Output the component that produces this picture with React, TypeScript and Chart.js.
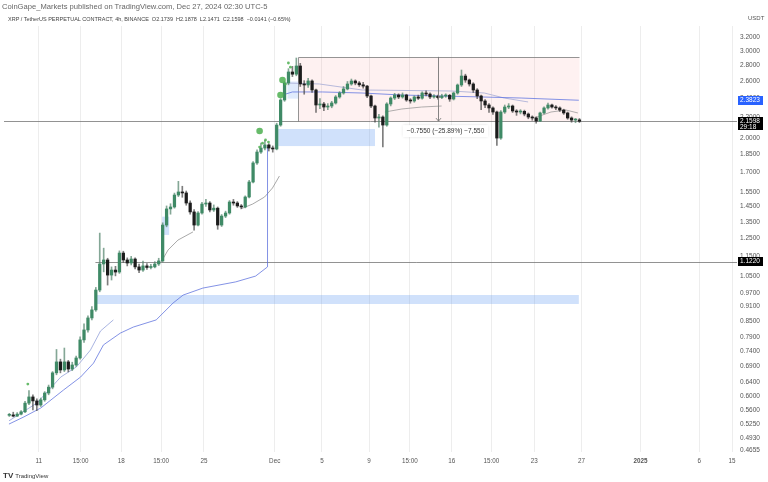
import React, { useEffect, useRef } from "react";
import { Chart, registerables } from "chart.js";
Chart.register(...registerables);

// time unit: day of November 2024 (Dec 1 = 31, Jan 1 = 62); 8h candles
const START_T = 8.5;
const STEP_T = 1 / 3;
const FIRST_OPEN = 0.548;

const CLOSE = [
  0.549, 0.546, 0.551, 0.557, 0.58, 0.597, 0.586, 0.575, 0.589, 0.608,
  0.625, 0.668, 0.703, 0.677, 0.703, 0.68, 0.693, 0.716, 0.779, 0.816,
  0.863, 0.896, 0.983, 1.11, 1.131, 1.054, 1.079, 1.069, 1.168, 1.131,
  1.115, 1.136, 1.095, 1.079, 1.1, 1.092, 1.095, 1.11, 1.126, 1.331,
  1.435, 1.448, 1.531, 1.553, 1.546, 1.475, 1.415, 1.331, 1.408, 1.468,
  1.475, 1.428, 1.44, 1.331, 1.388, 1.408, 1.482, 1.475, 1.455, 1.448,
  1.517, 1.627, 1.778, 1.871, 1.906, 1.934, 1.906, 1.898, 2.122, 2.385,
  2.582, 2.718, 2.69, 2.795, 2.57, 2.558, 2.606, 2.499, 2.33, 2.341,
  2.308, 2.319, 2.352, 2.419, 2.464, 2.511, 2.57, 2.606, 2.582, 2.56,
  2.545, 2.43, 2.319, 2.193, 2.203, 2.122, 2.341, 2.407, 2.441, 2.419,
  2.441, 2.385, 2.374, 2.419, 2.405, 2.464, 2.452, 2.419, 2.428, 2.412,
  2.43, 2.438, 2.396, 2.464, 2.558, 2.667, 2.618, 2.57, 2.499, 2.43,
  2.374, 2.33, 2.298, 2.255, 1.997, 2.255, 2.308, 2.319, 2.266, 2.255,
  2.262, 2.234, 2.203, 2.193, 2.162, 2.245, 2.298, 2.33, 2.308, 2.298,
  2.276, 2.245, 2.193, 2.172, 2.174, 2.1598,
];
const HIGH = [
  0.553, 0.556, 0.555, 0.56, 0.585, 0.615, 0.603, 0.592, 0.594, 0.612,
  0.631, 0.672, 0.745, 0.712, 0.75, 0.708, 0.702, 0.722, 0.79, 0.84,
  0.872, 0.91, 0.995, 1.282, 1.195, 1.14, 1.095, 1.098, 1.18, 1.178,
  1.142, 1.15, 1.142, 1.11, 1.125, 1.112, 1.108, 1.122, 1.14, 1.345,
  1.455, 1.47, 1.545, 1.632, 1.595, 1.56, 1.49, 1.43, 1.418, 1.48,
  1.5, 1.485, 1.462, 1.448, 1.398, 1.42, 1.492, 1.5, 1.485, 1.465,
  1.525, 1.64, 1.79, 1.89, 1.95, 1.975, 1.945, 1.925, 2.14, 2.4,
  2.6, 2.76, 2.79, 2.901, 2.83, 2.61, 2.64, 2.62, 2.51, 2.4,
  2.36, 2.345, 2.37, 2.435, 2.48, 2.54, 2.6, 2.63, 2.62, 2.6,
  2.59, 2.555, 2.44, 2.33, 2.23, 2.215, 2.355, 2.42, 2.46, 2.455,
  2.465, 2.45, 2.4, 2.432, 2.44, 2.478, 2.49, 2.465, 2.445, 2.44,
  2.45, 2.455, 2.448, 2.475, 2.57, 2.743, 2.69, 2.63, 2.585, 2.515,
  2.44, 2.39, 2.345, 2.31, 2.265, 2.27, 2.33, 2.345, 2.33, 2.28,
  2.28, 2.275, 2.245, 2.215, 2.205, 2.255, 2.31, 2.35, 2.34, 2.325,
  2.31, 2.285, 2.255, 2.205, 2.188, 2.1878,
];
const LOW = [
  0.545, 0.544, 0.545, 0.549, 0.555, 0.576, 0.562, 0.56, 0.571, 0.585,
  0.603, 0.62, 0.662, 0.668, 0.672, 0.671, 0.675, 0.688, 0.712, 0.77,
  0.808, 0.855, 0.89, 0.975, 1.07, 1.006, 1.03, 1.05, 1.062, 1.118,
  1.1, 1.105, 1.085, 1.066, 1.072, 1.082, 1.085, 1.09, 1.102, 1.12,
  1.32, 1.4, 1.44, 1.52, 1.515, 1.46, 1.4, 1.3, 1.325, 1.4,
  1.452, 1.415, 1.418, 1.305, 1.322, 1.378, 1.4, 1.46, 1.445, 1.436,
  1.442, 1.51, 1.62, 1.765, 1.86, 1.89, 1.88, 1.87, 1.89, 2.11,
  2.37, 2.56, 2.66, 2.67, 2.54, 2.45, 2.53, 2.47, 2.25, 2.29,
  2.27, 2.28, 2.3, 2.34, 2.405, 2.45, 2.5, 2.555, 2.56, 2.54,
  2.52, 2.41, 2.3, 2.15, 2.1, 1.916, 2.11, 2.32, 2.39, 2.4,
  2.405, 2.37, 2.35, 2.36, 2.39, 2.395, 2.43, 2.4, 2.405, 2.395,
  2.4, 2.415, 2.37, 2.385, 2.45, 2.54, 2.59, 2.545, 2.47, 2.4,
  2.28, 2.3, 2.25, 2.23, 1.93, 1.985, 2.24, 2.29, 2.25, 2.22,
  2.235, 2.215, 2.185, 2.17, 2.14, 2.155, 2.235, 2.285, 2.295, 2.28,
  2.26, 2.23, 2.18, 2.15, 2.145, 2.1471,
];

const X_TICKS = [11, 14.54, 18, 21.37, 25, 31, 35, 39, 42.45, 46, 49.36, 53, 57, 62, 67, 69.77];
const X_LABELS = ["11", "15:00", "18", "15:00", "25", "Dec", "5", "9", "15:00", "16", "15:00", "23", "27", "2025", "6", "15"];
const Y_TICKS = [3.2, 3.0, 2.8, 2.6, 2.4, 2.2, 2.0, 1.85, 1.7, 1.55, 1.45, 1.35, 1.25, 1.15, 1.05, 0.97, 0.91, 0.85, 0.79, 0.74, 0.69, 0.64, 0.6, 0.56, 0.525, 0.493, 0.4655];

// indicator / drawing lines: [time, price]
const LINE_ANCHORED = [[8.47, 0.526], [9.74, 0.544], [11.17, 0.567], [13.11, 0.617], [14.54, 0.655], [15.64, 0.699], [16.48, 0.761], [17.91, 0.804], [19.01, 0.827], [20.95, 0.855], [22.38, 0.925], [23.23, 0.96], [24.91, 0.992], [27.69, 1.021], [29.38, 1.049], [30.39, 1.095], [30.39, 1.916]];
const LINE_EARLY = [[8.47, 0.534], [10.83, 0.58], [12.86, 0.655], [14.2, 0.687], [15.38, 0.743], [16.23, 0.812], [17.32, 0.855]];
const LINE_NOV22 = [[21.37, 1.12], [21.96, 1.185], [22.8, 1.241], [24.07, 1.289]];
const LINE_NOV28 = [[28.12, 1.435], [29.13, 1.468], [30.14, 1.517], [30.81, 1.582], [31.4, 1.673]];
const LINE_VWAP = [[31.66, 2.441], [32.5, 2.476], [35.03, 2.476], [38.4, 2.464], [41.78, 2.441], [45.15, 2.43], [48.52, 2.419], [51.89, 2.407], [56.78, 2.3823]];
const LINE_VWAP2 = [[31.91, 2.582], [34.78, 2.57], [38.4, 2.499], [45.99, 2.487], [48.77, 2.464], [50.46, 2.407], [52.48, 2.363]];
const LINE_DEC10 = [[40.34, 2.255], [41.78, 2.287], [43.46, 2.308], [45.15, 2.319]];
const LINE_DEC23 = [[52.99, 2.193], [54.42, 2.255], [55.69, 2.276], [56.7, 2.245]];

const DOTS_BIG = [[29.72, 2.064], [31.66, 2.618], [31.49, 2.441]];
const DOTS_SMALL = [[30.22, 1.979], [30.47, 1.96], [29.97, 1.95], [29.72, 1.915], [31.91, 2.57], [32.16, 2.834], [32.33, 2.78], [10.07, 0.634]];

const ZONE_T0 = [15.89, 31.3, 21.46, 32.08];
const ZONE_T1 = [56.78, 39.5, 22.05, 33.0];
const ZONE_TOP = [0.9605, 2.083, 1.384, 2.6];
const ZONE_BOTTOM = [0.921, 1.924, 1.271, 2.4];

const RANGE_T = [33.0, 56.78];
const RANGE_P = [2.9163, 2.1613];
const MEASURE_T = 44.81;
const MEASURE_TEXT = "\u22120.7550 (\u221225.89%) \u22127,550";
const LAST_PRICE = 2.1598;
const COUNTDOWN = "29:18";
const LEVEL_PRICE = 1.122;
const LEVEL_T0 = 15.8;
const VWAP_LAST = 2.3823;

const FONT = "'Liberation Sans', Arial, sans-serif";

const OPEN = CLOSE.map((c, i) => (i === 0 ? FIRST_OPEN : CLOSE[i - 1]));
const TIMES = CLOSE.map((_, i) => START_T + i * STEP_T);

function tag(ctx: any, yPix: number, lines: string[], bg: string, left: number) {
  const h = lines.length === 1 ? 9 : 13;
  const top = Math.round(lines.length === 1 ? yPix - h / 2 : yPix - 4);
  ctx.fillStyle = bg;
  ctx.fillRect(left, top, 25, h);
  ctx.fillStyle = "#fff";
  ctx.font = `6.5px ${FONT}`;
  ctx.textBaseline = "middle";
  ctx.textAlign = "left";
  lines.forEach((s, i) => ctx.fillText(s, left + 2, top + 4.7 + i * 5.6));
}

const overlay = {
  id: "overlay",
  beforeDatasetsDraw(chart: any) {
    const { ctx, chartArea: a, scales } = chart;
    const x = scales.x, y = scales.y;
    ctx.save();
    ctx.beginPath();
    ctx.rect(a.left, a.top, a.right - a.left, a.bottom - a.top);
    ctx.clip();
    const rx0 = Math.round(x.getPixelForValue(RANGE_T[0])) + 0.5;
    const rx1 = Math.round(x.getPixelForValue(RANGE_T[1])) + 0.5;
    const ry0 = Math.round(y.getPixelForValue(RANGE_P[0])) + 0.5;
    const ry1 = Math.round(y.getPixelForValue(RANGE_P[1])) + 0.5;
    ctx.fillStyle = "rgba(240,100,100,0.09)";
    ctx.fillRect(rx0, ry0, rx1 - rx0, ry1 - ry0);
    ctx.strokeStyle = "rgba(130,130,130,0.85)";
    ctx.lineWidth = 1;
    ctx.beginPath();
    ctx.moveTo(rx0, ry1);
    ctx.lineTo(rx0, ry0);
    ctx.lineTo(rx1, ry0);
    ctx.stroke();
    ZONE_T0.forEach((t0, i) => {
      const x0 = x.getPixelForValue(t0), x1 = x.getPixelForValue(ZONE_T1[i]);
      const y0 = y.getPixelForValue(ZONE_TOP[i]), y1 = y.getPixelForValue(ZONE_BOTTOM[i]);
      ctx.fillStyle = i === 3 ? "rgba(60,130,240,0.16)" : "rgba(60,130,240,0.24)";
      ctx.fillRect(x0, y0, x1 - x0, y1 - y0);
    });
    const ly = Math.round(y.getPixelForValue(LAST_PRICE)) + 0.5;
    ctx.strokeStyle = "rgba(110,110,110,0.75)";
    ctx.beginPath();
    ctx.moveTo(a.left, ly);
    ctx.lineTo(a.right, ly);
    ctx.stroke();
    const vy = Math.round(y.getPixelForValue(LEVEL_PRICE)) + 0.5;
    ctx.beginPath();
    ctx.moveTo(x.getPixelForValue(LEVEL_T0), vy);
    ctx.lineTo(a.right, vy);
    ctx.stroke();
    ctx.restore();
  },
  afterDatasetsDraw(chart: any) {
    const { ctx, scales } = chart;
    const x = scales.x, y = scales.y;
    ctx.save();
    const mx = Math.round(x.getPixelForValue(MEASURE_T)) + 0.5;
    const my0 = y.getPixelForValue(RANGE_P[0]);
    const my1 = y.getPixelForValue(RANGE_P[1]);
    ctx.strokeStyle = "rgba(120,120,120,0.9)";
    ctx.lineWidth = 1;
    ctx.beginPath();
    ctx.moveTo(mx, my0);
    ctx.lineTo(mx, my1);
    ctx.moveTo(mx - 2.5, my1 - 3);
    ctx.lineTo(mx, my1);
    ctx.lineTo(mx + 2.5, my1 - 3);
    ctx.stroke();
    ctx.font = `6.5px ${FONT}`;
    const w = ctx.measureText(MEASURE_TEXT).width + 8;
    const cx = mx + 7;
    const top = my1 + 4;
    ctx.shadowColor = "rgba(0,0,0,0.2)";
    ctx.shadowBlur = 3;
    ctx.fillStyle = "#fff";
    ctx.fillRect(cx - w / 2, top, w, 12);
    ctx.shadowBlur = 0;
    ctx.fillStyle = "#333";
    ctx.textAlign = "center";
    ctx.textBaseline = "middle";
    ctx.fillText(MEASURE_TEXT, cx, top + 6.3);
    ctx.restore();
  },
  afterDraw(chart: any) {
    const { ctx, chartArea: a, scales } = chart;
    const y = scales.y;
    ctx.save();
    const left = a.right + 1;
    tag(ctx, y.getPixelForValue(VWAP_LAST), [VWAP_LAST.toFixed(4)], "#2962ff", left);
    tag(ctx, y.getPixelForValue(LAST_PRICE), [LAST_PRICE.toFixed(4), COUNTDOWN], "#000", left);
    tag(ctx, y.getPixelForValue(LEVEL_PRICE), [LEVEL_PRICE.toFixed(4)], "#000", left);
    ctx.restore();
  },
};

const toXY = (pts: number[][]) => pts.map(([t, p]) => ({ x: t, y: p }));
const lineDs = (pts: number[][], color: string) => ({
  type: "line",
  data: toXY(pts),
  borderColor: color,
  backgroundColor: color,
  borderWidth: 1,
  pointRadius: 0,
  tension: 0,
  fill: false,
  order: 4,
});

export default function App() {
  const ref = useRef<HTMLCanvasElement>(null);
  useEffect(() => {
    if (!ref.current) return;
    const up = CLOSE.map((c, i) => c >= OPEN[i]);
    const chart = new Chart(ref.current, {
      type: "bar",
      data: {
        datasets: [
          {
            type: "scatter",
            data: toXY(DOTS_BIG),
            pointRadius: 3.3,
            backgroundColor: "rgba(76,175,80,0.85)",
            borderWidth: 0,
            order: 0,
          } as any,
          {
            type: "scatter",
            data: toXY(DOTS_SMALL),
            pointRadius: 1.4,
            backgroundColor: "rgba(76,175,80,0.85)",
            borderWidth: 0,
            order: 0,
          } as any,
          {
            type: "bar",
            data: TIMES.map((t, i) => ({ x: t, y: [OPEN[i], CLOSE[i]] })),
            backgroundColor: up.map((u) => (u ? "#3f8a66" : "#1c1c1c")),
            barThickness: 2.6,
            minBarLength: 1,
            grouped: false,
            borderWidth: 0,
            order: 1,
          } as any,
          {
            type: "bar",
            data: TIMES.map((t, i) => ({ x: t, y: [LOW[i], HIGH[i]] })),
            backgroundColor: up.map((u) => (u ? "rgba(80,130,105,0.7)" : "rgba(70,70,70,0.7)")),
            barThickness: 1,
            grouped: false,
            borderWidth: 0,
            order: 2,
          } as any,
          lineDs(LINE_ANCHORED, "rgba(90,110,220,0.75)") as any,
          lineDs(LINE_EARLY, "rgba(140,155,215,0.75)") as any,
          lineDs(LINE_NOV22, "rgba(140,140,140,0.75)") as any,
          lineDs(LINE_NOV28, "rgba(140,140,140,0.75)") as any,
          lineDs(LINE_VWAP, "rgba(100,120,225,0.8)") as any,
          lineDs(LINE_VWAP2, "rgba(170,175,215,0.85)") as any,
          lineDs(LINE_DEC10, "rgba(150,150,150,0.75)") as any,
          lineDs(LINE_DEC23, "rgba(150,150,150,0.75)") as any,
        ],
      },
      options: {
        responsive: false,
        maintainAspectRatio: false,
        animation: false,
        events: [],
        layout: { padding: { top: 26, bottom: 18, left: 0, right: 0 } },
        plugins: { legend: { display: false }, tooltip: { enabled: false } },
        scales: {
          x: {
            type: "linear",
            min: 8.05,
            max: 70.19,
            offset: false,
            bounds: "data",
            grid: { offset: false, color: "rgba(0,0,0,0.07)", drawTicks: false },
            border: { display: false },
            afterBuildTicks: (s: any) => {
              s.ticks = X_TICKS.map((v) => ({ value: v }));
            },
            afterFit: (s: any) => {
              s.height = 12;
            },
            ticks: {
              autoSkip: false,
              maxRotation: 0,
              padding: 5,
              color: "#555",
              font: (c: any) => ({ size: 6.3, family: FONT, weight: X_LABELS[c.index] === "2025" ? "bold" : "normal" }),
              callback: (_v: any, i: number) => X_LABELS[i],
            },
          },
          y: {
            type: "logarithmic",
            position: "right",
            min: 0.4618,
            max: 3.368,
            bounds: "data",
            grid: { display: false, drawTicks: false },
            border: { display: false },
            afterBuildTicks: (s: any) => {
              s.ticks = Y_TICKS.map((v) => ({ value: v }));
            },
            afterFit: (s: any) => {
              s.width = 31;
            },
            ticks: {
              autoSkip: false,
              padding: 3,
              color: "#555",
              font: { size: 6.5, family: FONT },
              callback: (v: any) => Number(v).toFixed(4),
            },
          },
        },
      } as any,
      plugins: [overlay],
    });
    return () => chart.destroy();
  }, []);

  return (
    <div style={{ position: "fixed", left: 0, top: 0, width: 768, height: 482, background: "#fff", fontFamily: FONT, overflow: "hidden" }}>
      <canvas ref={ref} width={768} height={482} style={{ position: "absolute", left: 0, top: 0 }} />
      <div style={{ position: "absolute", left: 2, top: 2, fontSize: 7.6, lineHeight: "9px", color: "#666", whiteSpace: "nowrap" }}>
        CoinGape_Markets published on TradingView.com, Dec 27, 2024 02:30 UTC-5
      </div>
      <div style={{ position: "absolute", left: 8, top: 15, fontSize: 5.5, lineHeight: "8px", color: "#444", whiteSpace: "nowrap" }}>
        XRP / TetherUS PERPETUAL CONTRACT, 4h, BINANCE&nbsp; O2.1739&nbsp; H2.1878&nbsp; L2.1471&nbsp; C2.1598&nbsp; {"\u22120.0141 (\u22120.65%)"}
      </div>
      <div style={{ position: "absolute", left: 748, top: 14, fontSize: 6, lineHeight: "8px", color: "#555" }}>USDT</div>
      <div style={{ position: "absolute", left: 3, top: 471, fontSize: 6, lineHeight: "10px", color: "#333", whiteSpace: "nowrap" }}>
        <span style={{ fontWeight: "bold", fontSize: 8, marginRight: 2 }}>TV</span>TradingView
      </div>
    </div>
  );
}
